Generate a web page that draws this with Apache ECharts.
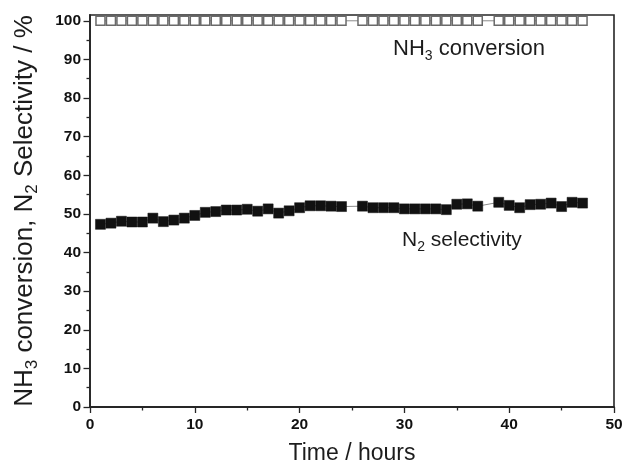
<!DOCTYPE html>
<html>
<head>
<meta charset="utf-8">
<script src="https://cdn.jsdelivr.net/npm/echarts@6/dist/echarts.min.js"></script>
<style>
  html, body { margin: 0; padding: 0; background: #ffffff; }
  #chart { width: 627px; height: 470px; }
</style>
</head>
<body>
<div id="chart"></div>
<script>
// Time on stream (hours) for each measurement
const hours = [
  1, 2, 3, 4, 5, 6, 7, 8, 9, 10, 11, 12, 13, 14, 15, 16, 17, 18, 19, 20, 21, 22, 23, 24,
  26, 27, 28, 29, 30, 31, 32, 33, 34, 35, 36, 37,
  39, 40, 41, 42, 43, 44, 45, 46, 47
];

// NH3 conversion (%)
const nh3Conversion = [
  100, 100, 100, 100, 100, 100, 100, 100, 100, 100, 100, 100, 100, 100, 100, 100, 100, 100, 100, 100, 100, 100, 100, 100,
  100, 100, 100, 100, 100, 100, 100, 100, 100, 100, 100, 100,
  100, 100, 100, 100, 100, 100, 100, 100, 100
];

// N2 selectivity (%)
const n2Selectivity = [
  47.3, 47.6, 48.1, 47.9, 47.9, 48.9, 48.0, 48.4, 48.9, 49.6, 50.4, 50.6, 51.0, 51.0, 51.2, 50.7, 51.3, 50.2, 50.8, 51.6, 52.1, 52.1, 52.0, 51.9,
  52.0, 51.6, 51.6, 51.6, 51.3, 51.3, 51.3, 51.3, 51.1, 52.5, 52.6, 52.0,
  53.0, 52.2, 51.6, 52.4, 52.5, 52.8, 51.9, 53.0, 52.8
];

// Axis ticks
const yMajorTicks = [0, 10, 20, 30, 40, 50, 60, 70, 80, 90, 100];
const yMinorTicks = [5, 15, 25, 35, 45, 55, 65, 75, 85, 95];

const FONT = "'Liberation Sans', Arial, sans-serif";
const AXIS_COLOR = '#262626';
const TEXT_COLOR = '#1c1c1c';

const pair = (xs, ys) => xs.map((x, i) => [x, ys[i]]);

const titleSub = { fontSize: 17, fontFamily: FONT, color: TEXT_COLOR, padding: [16, 0, 0, 0] };
const noteSub = { fontSize: 14, fontFamily: FONT, color: TEXT_COLOR, padding: [14, 0, 0, 0] };

const chart = echarts.init(document.getElementById('chart'), null, { renderer: 'canvas' });

chart.setOption({
  animation: false,
  backgroundColor: '#ffffff',
  grid: {
    left: 90, right: 13, top: 15, bottom: 62,
    show: true, borderColor: AXIS_COLOR, borderWidth: 1.6, backgroundColor: 'transparent'
  },
  xAxis: {
    type: 'value', min: 0, max: 50, interval: 10,
    axisLine: { show: true, onZero: false, lineStyle: { color: AXIS_COLOR, width: 1.8 } },
    axisTick: { show: true, inside: false, length: 6, lineStyle: { color: AXIS_COLOR, width: 1.3 } },
    minorTick: { show: true, splitNumber: 2, length: 3.5, lineStyle: { color: AXIS_COLOR, width: 1.3 } },
    splitLine: { show: false },
    axisLabel: { fontFamily: FONT, fontWeight: 'bold', fontSize: 15.5, color: '#111', margin: 10 },
    name: 'Time / hours', nameLocation: 'middle', nameGap: 35,
    nameTextStyle: { fontFamily: FONT, fontSize: 23, color: TEXT_COLOR }
  },
  yAxis: [
    {
      type: 'value', min: 0, max: 101.5, interval: 10,
      axisLine: { show: true, onZero: false, lineStyle: { color: AXIS_COLOR, width: 1.8 } },
      axisTick: { show: true, inside: false, length: 6.5, customValues: yMajorTicks, lineStyle: { color: AXIS_COLOR, width: 1.3 } },
      splitLine: { show: false },
      axisLabel: { customValues: yMajorTicks, fontFamily: FONT, fontWeight: 'bold', fontSize: 15.5, color: '#111', margin: 9 },
      name: 'NH{sub|3} conversion, N{sub|2} Selectivity / %',
      nameLocation: 'middle', nameRotate: 90, nameGap: 49,
      nameTextStyle: { fontFamily: FONT, fontSize: 26, color: TEXT_COLOR, rich: { sub: titleSub } }
    },
    {
      type: 'value', min: 0, max: 101.5, position: 'left',
      axisLine: { show: false },
      axisTick: { show: true, inside: false, length: 3.5, customValues: yMinorTicks, lineStyle: { color: AXIS_COLOR, width: 1.3 } },
      axisLabel: { show: false },
      splitLine: { show: false }
    }
  ],
  series: [
    {
      name: 'NH3 conversion',
      type: 'line',
      data: pair(hours, nh3Conversion),
      symbol: 'rect', symbolSize: 9,
      itemStyle: { color: '#ffffff', borderColor: '#6a6a6a', borderWidth: 1.5 },
      lineStyle: { color: '#8a8a8a', width: 1 },
      z: 3
    },
    {
      name: 'N2 selectivity',
      type: 'line',
      data: pair(hours, n2Selectivity),
      symbol: 'rect', symbolSize: 10,
      itemStyle: { color: '#111111', borderColor: '#111111', borderWidth: 0.5 },
      lineStyle: { color: '#8a8a8a', width: 1 },
      z: 3
    }
  ],
  graphic: [
    {
      type: 'text', left: 393, top: 38,
      style: {
        text: 'NH{sub|3} conversion',
        fontFamily: FONT, fontSize: 22, fill: TEXT_COLOR,
        rich: { sub: noteSub }
      }
    },
    {
      type: 'text', left: 402, top: 230,
      style: {
        text: 'N{sub|2} selectivity',
        fontFamily: FONT, fontSize: 21, fill: TEXT_COLOR,
        rich: { sub: noteSub }
      }
    }
  ]
});
</script>
</body>
</html>
